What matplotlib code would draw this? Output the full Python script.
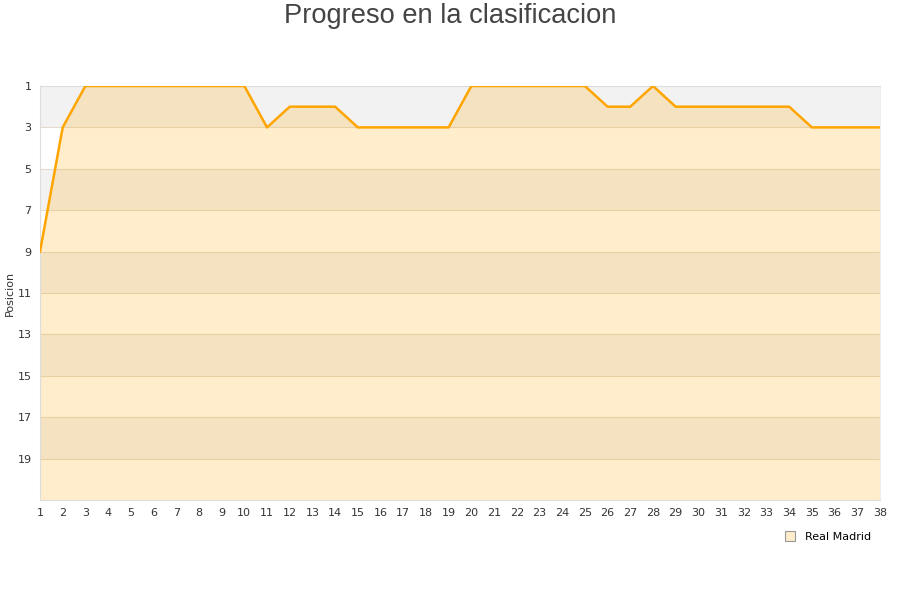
import numpy as np
import matplotlib.pyplot as plt
from matplotlib.lines import Line2D

# jornadas y posicion
rounds = list(range(1, 39))
position = [9, 3, 1, 1, 1, 1, 1, 1, 1, 1,
            3, 2, 2, 2, 3, 3, 3, 3, 3, 1,
            1, 1, 1, 1, 1, 2, 2, 1, 2, 2,
            2, 2, 2, 2, 3, 3, 3, 3]
y_ticks = [1, 3, 5, 7, 9, 11, 13, 15, 17, 19]
team = 'Real Madrid'

fig = plt.figure(figsize=(9, 6), dpi=100)
ax = fig.add_axes([40 / 900, 100 / 600, 840 / 900, 414 / 600])

# alternating bands
for lo in range(1, 21, 4):
    ax.axhspan(lo, lo + 2, color='#f2f2f2', zorder=0, lw=0)
for t in y_ticks[1:]:
    ax.axhline(t, color='#e3dbcc', lw=0.8, zorder=1)

ax.fill_between(rounds, position, 21, color='#ffa500', alpha=0.2, lw=0, zorder=2)
ax.plot(rounds, position, color='#ffa500', lw=1.8, zorder=3)

ax.set_xlim(1, 38)
ax.set_ylim(21, 1)
ax.set_xticks(rounds)
ax.set_yticks(y_ticks)
ax.tick_params(length=0, labelsize=8, labelcolor='#333333', pad=6)
for side in ['top', 'right', 'left', 'bottom']:
    ax.spines[side].set_color('#dddddd')
ax.spines['right'].set_color('#eeeeee')

ax.set_ylabel('Posicion', fontsize=8, color='#333333')
ax.yaxis.set_label_coords(-0.03, 0.5)

fig.text(0.5, 0.973, 'Progreso en la clasificacion', ha='center', va='center',
         fontsize=19.6, color='#444444', family='Liberation Sans')

handle = Line2D([], [], marker='s', ls='', markersize=7,
                markerfacecolor='#feecca', markeredgecolor='#999999', markeredgewidth=0.8)
fig.legend([handle], [team], loc='center', bbox_to_anchor=(825 / 900, 1 - 537 / 600),
           frameon=False, fontsize=8, handletextpad=0.3)

fig.savefig('out.png', dpi=100)
